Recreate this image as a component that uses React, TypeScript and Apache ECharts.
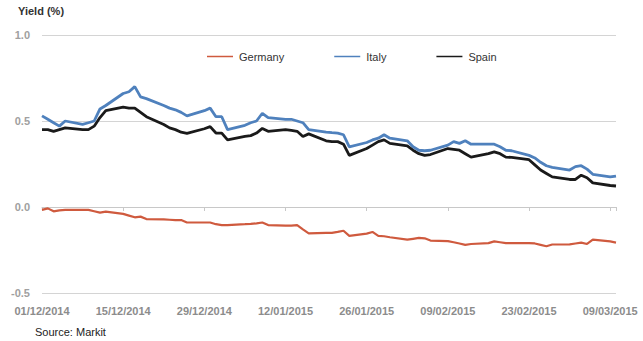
import React, { useEffect, useRef } from "react";
import * as echarts from "echarts";

const dates = [
  "2014-12-01", "2014-12-02", "2014-12-03", "2014-12-04", "2014-12-05",
  "2014-12-08", "2014-12-09", "2014-12-10", "2014-12-11", "2014-12-12",
  "2014-12-15", "2014-12-16", "2014-12-17", "2014-12-18", "2014-12-19",
  "2014-12-22", "2014-12-23", "2014-12-24", "2014-12-25", "2014-12-26",
  "2014-12-29", "2014-12-30", "2014-12-31", "2015-01-01", "2015-01-02",
  "2015-01-05", "2015-01-06", "2015-01-07", "2015-01-08", "2015-01-09",
  "2015-01-12", "2015-01-13", "2015-01-14", "2015-01-15", "2015-01-16",
  "2015-01-19", "2015-01-20", "2015-01-21", "2015-01-22", "2015-01-23",
  "2015-01-26", "2015-01-27", "2015-01-28", "2015-01-29", "2015-01-30",
  "2015-02-02", "2015-02-03", "2015-02-04", "2015-02-05", "2015-02-06",
  "2015-02-09", "2015-02-10", "2015-02-11", "2015-02-12", "2015-02-13",
  "2015-02-16", "2015-02-17", "2015-02-18", "2015-02-19", "2015-02-20",
  "2015-02-23", "2015-02-24", "2015-02-25", "2015-02-26", "2015-02-27",
  "2015-03-02", "2015-03-03", "2015-03-04", "2015-03-05", "2015-03-06",
  "2015-03-09", "2015-03-10",
];

const germany = [
  -0.017, -0.008, -0.025, -0.02, -0.017,
  -0.017, -0.017, -0.025, -0.033, -0.027,
  -0.04, -0.05, -0.06, -0.056, -0.07,
  -0.072, -0.074, -0.076, -0.076, -0.09,
  -0.09, -0.09, -0.1, -0.105, -0.105,
  -0.1, -0.098, -0.095, -0.09, -0.105,
  -0.108, -0.108, -0.105, -0.13, -0.153,
  -0.15, -0.15, -0.145, -0.138, -0.168,
  -0.155, -0.145, -0.168, -0.17, -0.176,
  -0.19, -0.185, -0.18, -0.182, -0.195,
  -0.198, -0.205, -0.212, -0.22, -0.215,
  -0.21, -0.2, -0.205, -0.21, -0.21,
  -0.21, -0.212, -0.22, -0.228, -0.218,
  -0.217, -0.212, -0.207, -0.215, -0.19,
  -0.2, -0.207,
];

const italy = [
  0.53, 0.51, 0.49, 0.47, 0.5,
  0.48, 0.49, 0.5, 0.57, 0.59,
  0.66, 0.67, 0.7, 0.64, 0.63,
  0.59, 0.575, 0.565, 0.55, 0.53,
  0.56, 0.575, 0.525, 0.525, 0.45,
  0.475, 0.49, 0.5, 0.545, 0.52,
  0.51, 0.51, 0.5, 0.49, 0.45,
  0.435, 0.432, 0.43, 0.42, 0.35,
  0.375, 0.39, 0.4, 0.42, 0.4,
  0.385, 0.35, 0.33, 0.327, 0.33,
  0.36, 0.38, 0.37, 0.385, 0.365,
  0.365, 0.365, 0.35, 0.33, 0.327,
  0.3, 0.285, 0.26, 0.24, 0.23,
  0.215, 0.235, 0.24, 0.22, 0.19,
  0.175, 0.18,
];

const spain = [
  0.45, 0.45, 0.44, 0.45, 0.46,
  0.45, 0.45, 0.47, 0.52, 0.56,
  0.58, 0.575, 0.575, 0.55, 0.525,
  0.48, 0.46, 0.45, 0.435, 0.428,
  0.455, 0.467, 0.43, 0.43, 0.39,
  0.41, 0.415, 0.43, 0.457, 0.44,
  0.45, 0.445, 0.44, 0.41, 0.425,
  0.385, 0.38, 0.38, 0.365, 0.3,
  0.34, 0.36, 0.38, 0.39, 0.37,
  0.355, 0.33, 0.31, 0.3, 0.305,
  0.34, 0.335, 0.33, 0.31, 0.29,
  0.31, 0.32, 0.31, 0.29, 0.288,
  0.275, 0.245, 0.215, 0.195, 0.175,
  0.16, 0.16, 0.185, 0.17, 0.14,
  0.125, 0.122,
];

const yTicks = [-0.5, 0.0, 0.5, 1.0];
const seriesNames = ["Germany", "Italy", "Spain"];
const seriesColors = ["#cf5a3e", "#4f81bd", "#1a1a1a"];

const START = Date.UTC(2014, 11, 1);
const DAY = 86400000;
const dayOffset = (s: string) => {
  const [y, m, d] = s.split("-").map(Number);
  return Math.round((Date.UTC(y, m - 1, d) - START) / DAY);
};
const fmtDay = (v: number) => {
  const dt = new Date(START + v * DAY);
  const dd = String(dt.getUTCDate()).padStart(2, "0");
  const mm = String(dt.getUTCMonth() + 1).padStart(2, "0");
  return `${dd}/${mm}/${dt.getUTCFullYear()}`;
};

const FONT = "Arial, 'Liberation Sans', sans-serif";

export default function App() {
  const ref = useRef<HTMLDivElement>(null);
  useEffect(() => {
    if (!ref.current) return;
    const chart = echarts.init(ref.current, null, { renderer: "svg" });
    const values = [germany, italy, spain];
    chart.setOption({
      animation: false,
      backgroundColor: "#ffffff",
      textStyle: { fontFamily: FONT },
      grid: { left: 42, right: 27, top: 35, bottom: 48, containLabel: false },
      graphic: [
        {
          type: "text",
          left: 18,
          top: 5,
          style: { text: "Yield (%)", font: `bold 11px ${FONT}`, fill: "#333" },
        },
        {
          type: "text",
          left: 35,
          top: 326,
          style: { text: "Source: Markit", font: `11px ${FONT}`, fill: "#222" },
        },
      ],
      legend: {
        left: 202,
        top: 46,
        itemGap: 50,
        itemWidth: 26,
        itemHeight: 1.5,
        icon: "rect",
        textStyle: { fontFamily: FONT, fontSize: 11, color: "#333", padding: [0, 0, 0, 1] },
        data: seriesNames,
      },
      xAxis: [
        {
          type: "value",
          min: 0,
          max: 99,
          interval: 14,
          axisLine: { show: false, onZero: false },
          axisTick: { show: false },
          splitLine: { show: false },
          axisLabel: {
            formatter: (v: number) => (v % 14 === 0 ? fmtDay(v) : ""),
            color: "#8c8c8c",
            fontWeight: "bold",
            fontSize: 11,
            fontFamily: FONT,
            margin: 12,
            showMaxLabel: false,
          },
        },
        {
          type: "value",
          position: "bottom",
          min: 0,
          max: 99,
          interval: 14,
          axisLine: { show: true, onZero: true, lineStyle: { color: "#c8c8c8", width: 1 } },
          axisTick: { show: true, length: 4, lineStyle: { color: "#c8c8c8" } },
          axisLabel: { show: false },
          splitLine: { show: false },
        },
      ],
      yAxis: {
        type: "value",
        min: yTicks[0],
        max: yTicks[yTicks.length - 1],
        interval: 0.5,
        axisLine: { show: false },
        axisTick: { show: false },
        splitLine: { lineStyle: { color: "#d4d4d4", width: 1 } },
        axisLabel: {
          formatter: (v: number) => v.toFixed(1),
          color: "#a0a0a0",
          fontWeight: "bold",
          fontSize: 11,
          fontFamily: FONT,
          margin: 12,
        },
      },
      series: seriesNames.map((name, i) => ({
        name,
        type: "line",
        xAxisIndex: 0,
        showSymbol: false,
        symbol: "none",
        color: seriesColors[i],
        lineStyle: { width: i === 0 ? 2.2 : 2.8, color: seriesColors[i] },
        data: dates.map((d, k) => [dayOffset(d), values[i][k]]),
        z: 3 - i,
      })),
    });
    return () => chart.dispose();
  }, []);
  return <div ref={ref} style={{ width: 643, height: 341, position: "absolute", left: 0, top: 0 }} />;
}
